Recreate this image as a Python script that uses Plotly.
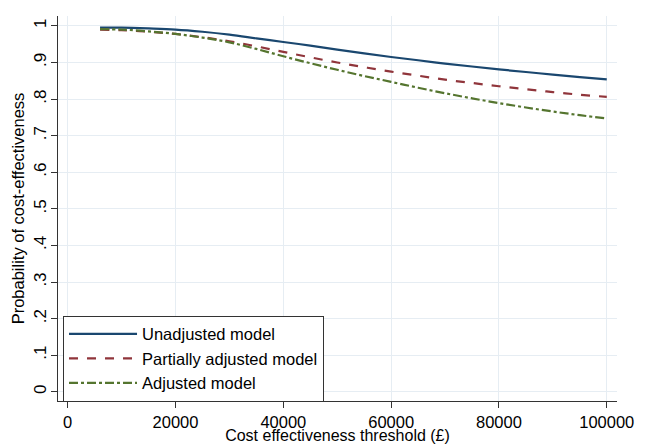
import plotly.graph_objects as go

threshold = [6000, 10000, 15000, 20000, 25000, 30000, 35000, 40000, 45000, 50000,
             55000, 60000, 65000, 70000, 75000, 80000, 85000, 90000, 95000, 100000]
unadjusted = [0.995, 0.995, 0.993, 0.990, 0.984, 0.976, 0.966, 0.956, 0.946, 0.935,
              0.925, 0.915, 0.906, 0.897, 0.889, 0.881, 0.874, 0.867, 0.860, 0.854]
partially = [0.990, 0.988, 0.984, 0.978, 0.969, 0.958, 0.944, 0.929, 0.914, 0.900,
             0.887, 0.875, 0.864, 0.853, 0.844, 0.835, 0.827, 0.819, 0.812, 0.806]
adjusted = [0.991, 0.990, 0.985, 0.978, 0.968, 0.955, 0.937, 0.917, 0.898, 0.880,
            0.863, 0.847, 0.831, 0.816, 0.802, 0.789, 0.777, 0.766, 0.756, 0.747]

x_ticks = [0, 20000, 40000, 60000, 80000, 100000]
y_ticks = [0, 0.1, 0.2, 0.3, 0.4, 0.5, 0.6, 0.7, 0.8, 0.9, 1.0]
y_ticktext = ["0", ".1", ".2", ".3", ".4", ".5", ".6", ".7", ".8", ".9", "1"]

fig = go.Figure()
fig.add_trace(go.Scatter(x=threshold, y=unadjusted, mode="lines", name="Unadjusted model",
                         line=dict(color="#1a476f", width=2.2, shape="spline")))
fig.add_trace(go.Scatter(x=threshold, y=partially, mode="lines", name="Partially adjusted model",
                         line=dict(color="#90353b", width=2.2, dash="dash", shape="spline")))
fig.add_trace(go.Scatter(x=threshold, y=adjusted, mode="lines", name="Adjusted model",
                         line=dict(color="#55752f", width=2.2, dash="dashdot", shape="spline")))

# page body has an 8px margin, so the figure is drawn 8px in from the top-left
fig.update_layout(
    width=638, height=436,
    margin=dict(l=50, r=29, t=8, b=43),
    paper_bgcolor="white", plot_bgcolor="white",
    font=dict(family="Liberation Sans, Arial, sans-serif", size=17, color="black"),
    showlegend=True,
    legend=dict(x=0.009, y=0.11, xanchor="left", yanchor="middle",
                bordercolor="#333333", borderwidth=1, bgcolor="white",
                font=dict(size=16.5), tracegroupgap=0, itemwidth=68),
    xaxis=dict(range=[-1800, 101900], tickvals=x_ticks, ticktext=[str(v) for v in x_ticks],
               showgrid=True, gridcolor="#e6edf3", gridwidth=1, zeroline=False,
               showline=True, linecolor="#333333", linewidth=1.2,
               ticks="outside", ticklen=6, tickcolor="#333333", automargin=False,
               tickfont=dict(size=16.5),
               title=dict(text="Cost effectiveness threshold (£)", standoff=0, font=dict(size=16))),
    yaxis=dict(range=[-0.025, 1.027], tickvals=y_ticks, ticktext=y_ticktext, tickangle=-90,
               showgrid=True, gridcolor="#e6edf3", gridwidth=1, zeroline=False,
               showline=True, linecolor="#333333", linewidth=1.2,
               ticks="outside", ticklen=6, tickcolor="#333333", automargin=False,
               tickfont=dict(size=17), ticklabelstandoff=-2,
               title=dict(text="Probability of cost-effectiveness", standoff=2, font=dict(size=16.5))),
)

fig.write_html("out.html")
